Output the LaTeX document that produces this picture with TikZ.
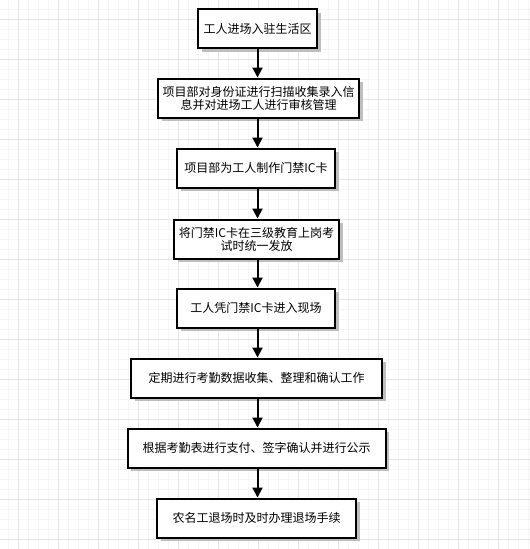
\documentclass[tikz,border=0pt]{standalone}
\usepackage{fontspec}
\setmainfont{Noto Sans CJK SC}
\usetikzlibrary{positioning,arrows.meta,shadows}
\definecolor{gridminor}{RGB}{245,245,245}
\definecolor{gridmajor}{RGB}{228,228,228}
\definecolor{boxshadow}{RGB}{190,190,190}

\begin{document}
\begin{tikzpicture}[x=1pt,y=-1pt,font=\fontsize{12pt}{13pt}\selectfont,
  stepbox/.style={draw,line width=2pt,fill=white,minimum height=39pt,inner sep=2pt,align=center,
    drop shadow={shadow xshift=3.5pt,shadow yshift=-3.5pt,fill=boxshadow,opacity=1}},
  flow/.style={line width=2pt,-{Triangle[width=10pt,length=10pt]}}]
\useasboundingbox[fill=white] (0,0) rectangle (530,549);
% background grid
\foreach \x in {8,18,...,528} \draw[gridminor,line width=1pt] (\x,0) -- (\x,549);
\foreach \y in {9,19,...,549} \draw[gridminor,line width=1pt] (0,\y) -- (530,\y);
\foreach \x in {18,58,...,498} \draw[gridmajor,line width=1pt] (\x,0) -- (\x,549);
\foreach \y in {19,59,...,539} \draw[gridmajor,line width=1pt] (0,\y) -- (530,\y);
% steps
\node[stepbox,minimum width=119pt] (enter) at (257.5,28.5) {工人进场入驻生活区};
\node[stepbox,minimum width=201pt] (check) at (258.5,98) {项目部对身份证进行扫描收集录入信\\息并对进场工人进行审核管理};
\node[stepbox,minimum width=158pt] (card) at (256,168) {项目部为工人制作门禁IC卡};
\node[stepbox,minimum width=165pt] (issue) at (256.5,239) {将门禁IC卡在三级教育上岗考\\试时统一发放};
\node[stepbox,minimum width=158pt] (site) at (256,308) {工人凭门禁IC卡进入现场};
\node[stepbox,minimum width=251pt] (attend) at (256.5,378) {定期进行考勤数据收集、整理和确认工作};
\node[stepbox,minimum width=258pt] (pay) at (256.5,448) {根据考勤表进行支付、签字确认并进行公示};
\node[stepbox,minimum width=199pt] (leave) at (256.5,518) {农名工退场时及时办理退场手续};
% arrows
\draw[flow] (enter) -- (enter|-check.north);
\draw[flow] (check.south-|enter) -- (enter|-card.north);
\draw[flow] (card.south-|enter) -- (enter|-issue.north);
\draw[flow] (issue.south-|enter) -- (enter|-site.north);
\draw[flow] (site.south-|enter) -- (enter|-attend.north);
\draw[flow] (attend.south-|enter) -- (enter|-pay.north);
\draw[flow] (pay.south-|enter) -- (enter|-leave.north);
\end{tikzpicture}
\end{document}
